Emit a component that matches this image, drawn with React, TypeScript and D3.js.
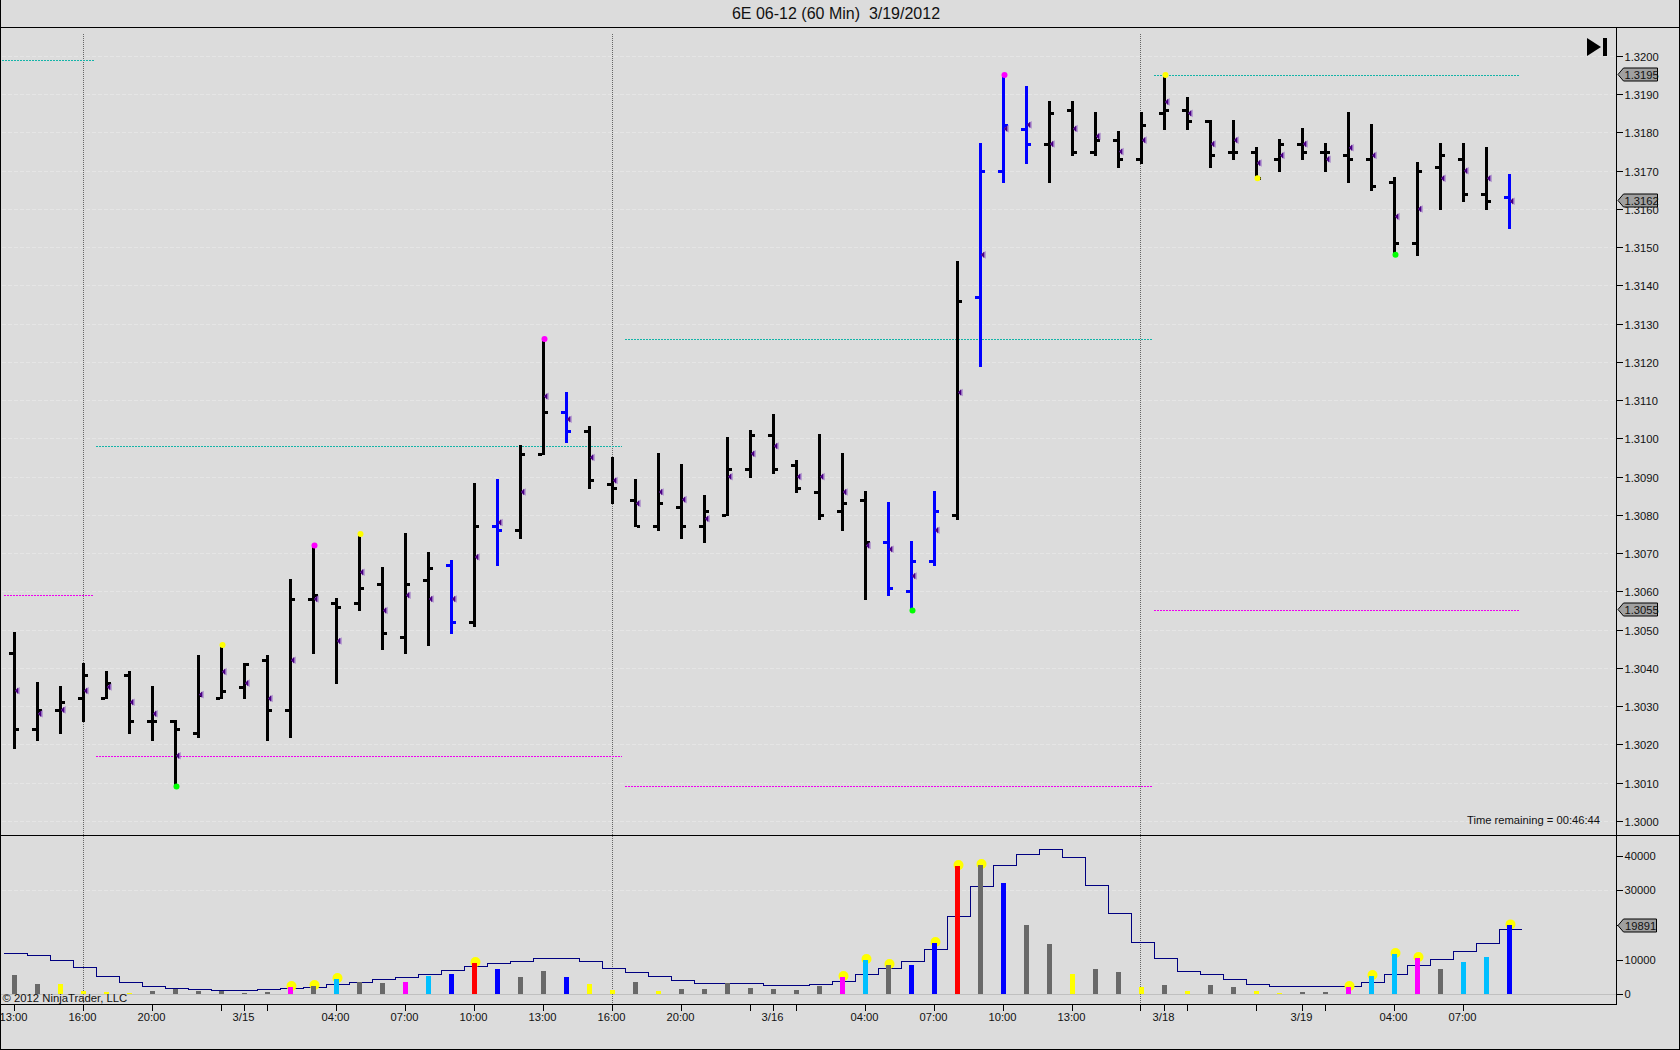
import React from "react";
import * as d3 from "d3";

const highs = [1.3049,1.3036,1.3035,1.3041,1.3039,1.3039,1.3035,1.3026,1.3043,1.3046,1.3041,1.3043,1.3063,1.3072,1.3058,1.3075,1.3066,1.3075,1.3070,1.3068,1.3088,1.3089,1.3098,1.3126,1.3112,1.3103,1.3095,1.3089,1.3096,1.3093,1.3085,1.3100,1.3102,1.3106,1.3094,1.3101,1.3096,1.3086,1.3083,1.3073,1.3086,1.3146,1.3177,1.3195,1.3192,1.3188,1.3188,1.3185,1.3180,1.3185,1.3195,1.3189,1.3183,1.3183,1.3176,1.3178,1.3181,1.3177,1.3185,1.3182,1.3168,1.3172,1.3177,1.3177,1.3176,1.3169];
const lows = [1.3019,1.3021,1.3023,1.3026,1.3032,1.3023,1.3021,1.3009,1.3022,1.3032,1.3032,1.3021,1.3022,1.3044,1.3036,1.3055,1.3045,1.3044,1.3046,1.3049,1.3051,1.3067,1.3074,1.3096,1.3099,1.3087,1.3083,1.3077,1.3076,1.3074,1.3073,1.3080,1.3090,1.3091,1.3086,1.3079,1.3076,1.3058,1.3059,1.3055,1.3067,1.3079,1.3119,1.3167,1.3172,1.3167,1.3174,1.3174,1.3171,1.3172,1.3181,1.3181,1.3171,1.3173,1.3168,1.3170,1.3173,1.3170,1.3167,1.3165,1.3148,1.3148,1.3160,1.3162,1.3160,1.3155];
const opens = [1.3044,1.3024,1.3029,1.3032,1.3032,1.3038,1.3026,1.3026,1.3023,1.3032,1.3035,1.3042,1.3029,1.3058,1.3057,1.3057,1.3062,1.3048,1.3063,1.3067,1.3052,1.3077,1.3076,1.3096,1.3107,1.3102,1.3088,1.3084,1.3077,1.3082,1.3077,1.3080,1.3092,1.3101,1.3093,1.3086,1.3081,1.3084,1.3073,1.3060,1.3068,1.3080,1.3137,1.3170,1.3181,1.3177,1.3186,1.3175,1.3178,1.3173,1.3185,1.3186,1.3183,1.3175,1.3175,1.3173,1.3177,1.3175,1.3174,1.3173,1.3167,1.3151,1.3171,1.3173,1.3164,1.3163];
const closes = [1.3024,1.3029,1.3031,1.3038,1.3036,1.3026,1.3026,1.3024,1.3033,1.3034,1.3041,1.3029,1.3058,1.3059,1.3056,1.3061,1.3049,1.3062,1.3066,1.3052,1.3077,1.3076,1.3096,1.3107,1.3102,1.3089,1.3087,1.3077,1.3083,1.3077,1.3081,1.3092,1.3101,1.3092,1.3087,1.3080,1.3083,1.3073,1.3061,1.3068,1.3081,1.3136,1.3170,1.3182,1.3177,1.3185,1.3175,1.3178,1.3173,1.3182,1.3186,1.3183,1.3174,1.3175,1.3168,1.3177,1.3175,1.3175,1.3173,1.3166,1.3151,1.3170,1.3174,1.3164,1.3162,1.3162];
const markers = [1.3034,1.3028,1.3029,1.3034,1.3035,1.3031,1.3028,1.3017,1.3033,1.3039,1.3036,1.3032,1.3042,1.3058,1.3047,1.3065,1.3055,1.3059,1.3058,1.3058,1.3069,1.3078,1.3086,1.3111,1.3105,1.3095,1.3089,1.3083,1.3086,1.3084,1.3079,1.3090,1.3096,1.3098,1.3090,1.3090,1.3086,1.3072,1.3071,1.3064,1.3076,1.3112,1.3148,1.3181,1.3182,1.3177,1.3181,1.3179,1.3175,1.3178,1.3188,1.3185,1.3177,1.3178,1.3172,1.3174,1.3177,1.3173,1.3176,1.3174,1.3158,1.3160,1.3168,1.3170,1.3168,1.3162];
const blueBars = [19,21,24,38,39,40,42,43,44,65];
const dotIndex = [13,23,43,9,15,50,54,7,39,60];
const dotPrice = [1.3072,1.3126,1.3195,1.3046,1.3075,1.3195,1.3168,1.3009,1.3055,1.3148];
const dotColor = ["#ff00ff","#ff00ff","#ff00ff","#ffff00","#ffff00","#ffff00","#ffff00","#00ff00","#00ff00","#00ff00"];
const levelPrice = [1.3199,1.3098,1.3126,1.3195,1.3059,1.3017,1.3009,1.3055];
const levelFrom = [2,96,625,1154,4,96,625,1154];
const levelTo = [94,622,1152,1520,94,622,1152,1520];
const levelColor = ["#14b4a8","#14b4a8","#14b4a8","#14b4a8","#f000f0","#f000f0","#f000f0","#f000f0"];
const volumes = [5570,2970,2970,860,660,290,950,1620,950,1050,400,660,2100,2400,4420,3460,3270,3560,5280,5860,9030,7300,4990,6720,5000,2980,1250,3560,870,1540,1540,3170,1830,1540,1250,2400,5000,9900,8470,8470,14800,37000,37300,32100,20000,14500,5870,7300,6450,2020,2700,870,2700,2120,870,300,700,700,2100,5280,11630,10480,7300,9320,10760,19891];
const volColors = "GGYYYYGGGGGGMGSGGMSBRBGGBYYGYGGGGGGGMSGBBRGBGGYGGYGYGGYYGGMSSMGSSB".split("");
const volDotBars = [12,13,14,20,36,37,38,40,41,42,58,59,60,61,65];
const smaValues = [11830,11260,9810,7790,5190,3460,2310,1730,1440,1150,1150,1440,1730,2020,2890,3460,4330,4910,5770,6930,8080,8950,9520,10390,10390,9520,7500,6350,5190,4040,3170,3170,3170,2600,2600,2890,3750,5770,7500,9520,12990,22510,31170,37230,40400,41850,39540,31460,23200,15000,10390,6640,5770,4330,2890,2300,2160,2160,2300,3400,5770,8370,10100,12410,14720,18760,18760];
const priceTicks = [1.30,1.301,1.302,1.303,1.304,1.305,1.306,1.307,1.308,1.309,1.31,1.311,1.312,1.313,1.314,1.315,1.316,1.317,1.318,1.319,1.32];
const priceTags = [1.3195,1.3162,1.3055];
const volumeTicks = [0,10000,20000,30000,40000];
const timeTickBars = [0,3,6,9,10,11,14,17,20,23,26,29,32,33,34,37,40,43,46,49,50,51,54,56,57,60,63];
const timeLabelBars = [0,3,6,10,14,17,20,23,26,29,33,37,40,43,46,50,56,60,63];
const timeLabels = ["13:00","16:00","20:00","3/15","04:00","07:00","10:00","13:00","16:00","20:00","3/16","04:00","07:00","10:00","13:00","3/18","3/19","04:00","07:00"];
const sessionBars = [3,26,49];

const WIDTH = 1680, HEIGHT = 1050;
const BG = "#dcdcdc";
const FONT = "'Liberation Sans', Arial, sans-serif";
const AXIS_X = 1617, PANEL_TOP = 27, SEP_Y = 835, PANEL_BOTTOM = 1004;
const LABEL_SIZE = 11.2;

const x = d3.scaleLinear().domain([0, 65]).range([14.5, 1509.5]);
const y = d3.scaleLinear().domain([1.30, 1.32]).range([820.8, 56.0]);
const v = d3.scaleLinear().domain([0, 40000]).range([994.3, 855.7]);
const volFill: Record<string, string> = { G: "#696969", Y: "#ffff00", M: "#ff00ff", S: "#00bfff", B: "#0000ff", R: "#ff0000" };
const sma = d3.line<number>()
  .x((_, i) => x(i) - 10.5)
  .y((d) => v(d))
  .curve(d3.curveStepAfter);
const r = Math.round;

export default function App() {
  return (
    <svg width={WIDTH} height={HEIGHT} viewBox={`0 0 ${WIDTH} ${HEIGHT}`}
      style={{ position: "fixed", left: 0, top: 0, display: "block", background: BG, fontFamily: FONT }}>
      <rect width={WIDTH} height={HEIGHT} fill={BG} />
      <text x={836} y={18.5} textAnchor="middle" fontSize={16} fill="#111" xmlSpace="preserve">6E 06-12 (60 Min)  3/19/2012</text>

      {/* grid */}
      <g shapeRendering="crispEdges" stroke="#e5e5e5" strokeDasharray="4 2">
        {priceTicks.map((p) => <line key={p} x1={2} x2={AXIS_X} y1={r(y(p))} y2={r(y(p))} />)}
        <line x1={2} x2={AXIS_X} y1={r(v(30000))} y2={r(v(30000))} />
      </g>
      <line x1={1} x2={AXIS_X} y1={r(v(0))} y2={r(v(0))} stroke="#c0c0c0" strokeWidth={1} shapeRendering="crispEdges" />

      {/* session lines */}
      <g stroke="#666" strokeDasharray="1 1" shapeRendering="crispEdges">
        {sessionBars.map((b) => <line key={b} x1={r(x(b)) - 0.5} x2={r(x(b)) - 0.5} y1={34} y2={PANEL_BOTTOM} />)}
      </g>

      {/* prior session levels */}
      <g shapeRendering="crispEdges">
        {levelPrice.map((p, i) => (
          <line key={i} x1={levelFrom[i]} x2={levelTo[i]} y1={r(y(p))} y2={r(y(p))} stroke={levelColor[i]} strokeDasharray="2 1" />
        ))}
      </g>

      {/* volume */}
      <path d={sma(smaValues) ?? ""} fill="none" stroke="#000080" strokeWidth={1} shapeRendering="crispEdges" />
      <g>
        {volDotBars.map((b) => <circle key={b} cx={x(b) + 1} cy={v(volumes[b]) - 1} r={5} fill="#ffff00" />)}
      </g>
      <g shapeRendering="crispEdges">
        {volumes.map((d, i) => (
          <rect key={i} x={r(x(i) - 2.5)} width={5} y={r(v(d))} height={r(v(0)) - r(v(d))} fill={volFill[volColors[i]]} />
        ))}
      </g>

      {/* price bars */}
      <g shapeRendering="crispEdges">
        {highs.map((h, i) => {
          const c = blueBars.includes(i) ? "#0000ff" : "#000000";
          const cx = x(i);
          return (
            <g key={i} fill={c}>
              <rect x={cx - 1.5} width={3} y={r(y(h)) - 1} height={r(y(lows[i])) - r(y(h)) + 2} />
              <rect x={cx - 5.5} width={4} y={r(y(opens[i])) - 1.5} height={3} />
              <rect x={cx + 1.5} width={3} y={r(y(closes[i])) - 1.5} height={3} />
            </g>
          );
        })}
      </g>
      <g>
        {markers.map((m, i) => {
          const cx = x(i), my = y(m);
          return (
            <g key={i}>
              <path d={`M${cx + 0.5},${my}L${cx + 5},${my - 3.8}L${cx + 5},${my + 3.8}Z`} fill="#9468c0" />
              <path d={`M${cx + 0.5},${my}L${cx + 3.5},${my - 3.2}L${cx + 3.5},${my + 3.2}Z`} fill="#4b0082" />
            </g>
          );
        })}
      </g>
      <g>
        {dotIndex.map((b, i) => <circle key={b} cx={x(b) + 1} cy={y(dotPrice[i])} r={3} fill={dotColor[i]} />)}
      </g>

      {/* frames */}
      <g stroke="#000" strokeWidth={1} shapeRendering="crispEdges">
        <line x1={0} x2={WIDTH} y1={PANEL_TOP + 0.5} y2={PANEL_TOP + 0.5} />
        <line x1={0} x2={WIDTH} y1={SEP_Y + 0.5} y2={SEP_Y + 0.5} />
        <line x1={0} x2={AXIS_X} y1={PANEL_BOTTOM + 0.5} y2={PANEL_BOTTOM + 0.5} />
        <line x1={AXIS_X - 0.5} x2={AXIS_X - 0.5} y1={PANEL_TOP} y2={PANEL_BOTTOM} />
        <line x1={0.5} x2={0.5} y1={0} y2={HEIGHT} />
        <line x1={WIDTH - 0.5} x2={WIDTH - 0.5} y1={0} y2={HEIGHT} />
        <line x1={0} x2={WIDTH} y1={HEIGHT - 0.5} y2={HEIGHT - 0.5} />
      </g>

      {/* price axis */}
      {priceTicks.map((p) => (
        <g key={p}>
          <line x1={AXIS_X} x2={AXIS_X + 6} y1={r(y(p)) + 0.5} y2={r(y(p)) + 0.5} stroke="#000" shapeRendering="crispEdges" />
          <text x={AXIS_X + 7.5} y={r(y(p)) + 5} fontSize={LABEL_SIZE} fill="#111">{d3.format(".4f")(p)}</text>
        </g>
      ))}
      {priceTags.map((p) => (
        <g key={p}>
          <path d={`M${AXIS_X + 1},${r(y(p)) - 0.5}L${AXIS_X + 6.5},${r(y(p)) - 7}H${AXIS_X + 40.5}V${r(y(p)) + 6}H${AXIS_X + 6.5}Z`} fill="#a0a0a0" stroke="#000" />
          <text x={AXIS_X + 7.5} y={r(y(p)) + 3.5} fontSize={LABEL_SIZE} fill="#111">{d3.format(".4f")(p)}</text>
        </g>
      ))}

      {/* volume axis */}
      {volumeTicks.map((t) => (
        <g key={t}>
          <line x1={AXIS_X} x2={AXIS_X + 6} y1={r(v(t)) + 0.5} y2={r(v(t)) + 0.5} stroke="#000" shapeRendering="crispEdges" />
          <text x={AXIS_X + 7.5} y={r(v(t)) + 4} fontSize={LABEL_SIZE} fill="#111">{t}</text>
        </g>
      ))}
      <g>
        <path d={`M${AXIS_X + 1},${r(v(19891)) + 0.5}L${AXIS_X + 6.5},${r(v(19891)) - 6}H${AXIS_X + 39.5}V${r(v(19891)) + 7}H${AXIS_X + 6.5}Z`} fill="#a0a0a0" stroke="#000" />
        <text x={AXIS_X + 8} y={r(v(19891)) + 4.5} fontSize={LABEL_SIZE} fill="#111">19891</text>
      </g>

      {/* time axis */}
      {timeTickBars.map((b) => (
        <line key={b} x1={r(x(b)) - 0.5} x2={r(x(b)) - 0.5} y1={PANEL_BOTTOM} y2={PANEL_BOTTOM + 7} stroke="#000" shapeRendering="crispEdges" />
      ))}
      {timeLabelBars.map((b, i) => (
        <text key={b} x={x(b) - 1} y={1021} textAnchor="middle" fontSize={LABEL_SIZE} fill="#111">{timeLabels[i]}</text>
      ))}

      {/* annotations */}
      <text x={2.5} y={1002} fontSize={11.3} fill="#111">© 2012 NinjaTrader, LLC</text>
      <text x={1600} y={824} textAnchor="end" fontSize={LABEL_SIZE} fill="#111">Time remaining = 00:46:44</text>
      <path d="M1587,38L1601,47L1587,56Z" fill="#000" />
      <rect x={1603} y={38} width={4} height={18} fill="#000" />
    </svg>
  );
}
